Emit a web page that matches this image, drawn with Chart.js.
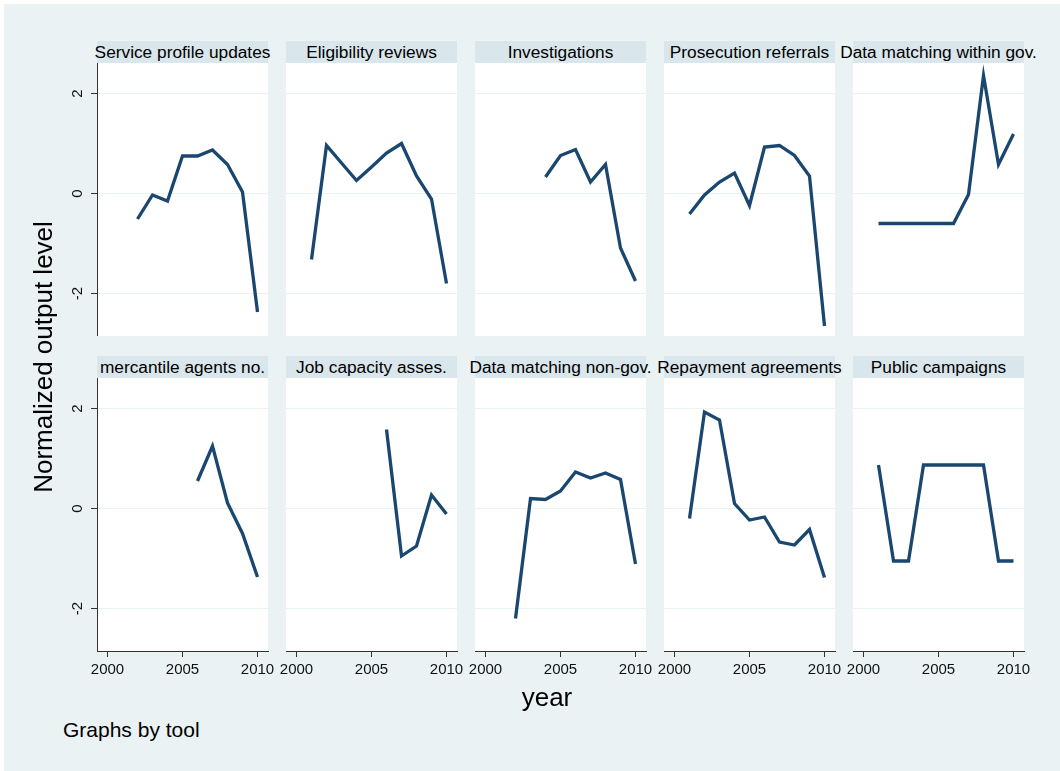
<!DOCTYPE html>
<html>
<head>
<meta charset="utf-8">
<script src="https://cdn.jsdelivr.net/npm/chart.js@4/dist/chart.umd.min.js"></script>
<style>
html, body { margin: 0; padding: 0; background: #ffffff; }
body { width: 1060px; height: 771px; position: relative; overflow: hidden; font-family: "Liberation Sans", Arial, sans-serif; color: #000; }
#bg { position: absolute; left: 4px; top: 4px; right: 0; bottom: 0; background: #eaf2f3; }
.strip { position: absolute; height: 22px; width: 171px; background: #d9e6eb; display: flex; justify-content: center; align-items: center; white-space: nowrap; font-size: 17.3px; color: #000; }
.strip span { line-height: 22px; }
canvas { position: absolute; }
#ytitle { position: absolute; width: 400px; height: 26px; line-height: 26px; font-size: 26px; text-align: center; white-space: nowrap; left: -157px; top: 344px; transform: rotate(-90deg); }
#xtitle { position: absolute; left: 447px; width: 200px; top: 684px; height: 26px; line-height: 26px; font-size: 26px; text-align: center; }
#note { position: absolute; left: 63px; top: 719px; height: 21px; line-height: 21px; font-size: 21px; white-space: nowrap; }
</style>
</head>
<body>
<div id="bg"></div>
<div id="panels"></div>
<div id="ytitle">Normalized output level</div>
<div id="xtitle">year</div>
<div id="note">Graphs by tool</div>
<script>
// ---- data ----
const years = [2000, 2001, 2002, 2003, 2004, 2005, 2006, 2007, 2008, 2009, 2010];
const xTicks = [2000, 2005, 2010];
const yTicks = [-2, 0, 2];
const panelTitles = [
  "Service profile updates", "Eligibility reviews", "Investigations", "Prosecution referrals", "Data matching within gov.",
  "mercantile agents no.", "Job capacity asses.", "Data matching non-gov.", "Repayment agreements", "Public campaigns"
];
const serviceProfileUpdates = [null, null, -0.51, -0.03, -0.15, 0.75, 0.75, 0.87, 0.58, 0.03, -2.37];
const eligibilityReviews   = [null, -1.32, 0.96, 0.61, 0.26, 0.53, 0.81, 1.00, 0.35, -0.11, -1.80];
const investigations       = [null, null, null, null, 0.33, 0.76, 0.88, 0.23, 0.58, -1.09, -1.75];
const prosecutionReferrals = [null, -0.41, -0.03, 0.23, 0.41, -0.24, 0.93, 0.96, 0.76, 0.35, -2.65];
const dataMatchingWithinGov = [null, -0.60, -0.60, -0.60, -0.60, -0.60, -0.60, -0.02, 2.36, 0.58, 1.19];
const mercantileAgentsNo   = [null, null, null, null, null, null, 0.55, 1.25, 0.11, -0.50, -1.37];
const jobCapacityAsses     = [null, null, null, null, null, null, 1.58, -0.95, -0.75, 0.27, -0.11];
const dataMatchingNonGov   = [null, null, -2.20, 0.20, 0.18, 0.35, 0.73, 0.61, 0.71, 0.58, -1.11];
const repaymentAgreements  = [null, -0.20, 1.93, 1.77, 0.10, -0.23, -0.17, -0.67, -0.73, -0.42, -1.38];
const publicCampaigns      = [null, 0.87, -1.05, -1.05, 0.87, 0.87, 0.87, 0.87, 0.87, -1.05, -1.05];

const panelSeries = [
  serviceProfileUpdates, eligibilityReviews, investigations, prosecutionReferrals, dataMatchingWithinGov,
  mercantileAgentsNo, jobCapacityAsses, dataMatchingNonGov, repaymentAgreements, publicCampaigns
];

// ---- layout / style ----
const FONT = "'Liberation Sans', Arial, sans-serif";
const PLOT_W = 171, PLOT_H = 273, COL_STEP = 189, FIRST_LEFT = 97;
const ROW_TOP = [63, 378];
const STRIP_TOP = [41, 356];

const whiteArea = {
  id: 'whiteArea',
  beforeDraw(chart) {
    const { ctx, chartArea: a } = chart;
    ctx.save();
    ctx.fillStyle = '#ffffff';
    ctx.fillRect(a.left, a.top, a.right - a.left, a.bottom - a.top);
    ctx.restore();
  }
};

function zeroPadding(s) {
  s.paddingTop = 0; s.paddingBottom = 0; s.paddingLeft = 0; s.paddingRight = 0;
}

const root = document.getElementById('panels');

panelSeries.forEach((vals, idx) => {
  const col = idx % 5, row = Math.floor(idx / 5);
  const plotLeft = FIRST_LEFT + COL_STEP * col;
  const plotTop = ROW_TOP[row];
  const L = col === 0 ? 45 : 8, R = 8, B = row === 1 ? 40 : 0;

  const strip = document.createElement('div');
  strip.className = 'strip';
  strip.style.left = plotLeft + 'px';
  strip.style.top = STRIP_TOP[row] + 'px';
  const sp = document.createElement('span');
  sp.textContent = panelTitles[idx];
  strip.appendChild(sp);
  root.appendChild(strip);

  const canvas = document.createElement('canvas');
  canvas.width = L + PLOT_W + R;
  canvas.height = PLOT_H + B;
  canvas.style.left = (plotLeft - L) + 'px';
  canvas.style.top = plotTop + 'px';
  canvas.style.width = canvas.width + 'px';
  canvas.style.height = canvas.height + 'px';
  root.appendChild(canvas);

  new Chart(canvas, {
    type: 'line',
    data: {
      datasets: [{
        data: years.map((y, i) => ({ x: y, y: vals[i] })),
        borderColor: '#1a476f',
        borderWidth: 3.3,
        pointRadius: 0,
        pointHoverRadius: 0,
        tension: 0,
        fill: false,
        spanGaps: false
      }]
    },
    options: {
      responsive: false,
      maintainAspectRatio: false,
      animation: false,
      devicePixelRatio: 1,
      events: [],
      layout: { padding: { left: 0, right: R, top: 0, bottom: 0 } },
      plugins: { legend: { display: false }, tooltip: { enabled: false }, title: { display: false } },
      scales: {
        x: {
          type: 'linear',
          min: 1999.3,
          max: 2010.7,
          display: row === 1,
          afterBuildTicks: s => { s.ticks = xTicks.map(v => ({ value: v })); },
          afterFit: s => { s.height = B; zeroPadding(s); },
          grid: { drawOnChartArea: false, drawTicks: true, tickLength: 6, tickColor: '#333333', tickWidth: 1 },
          border: { display: true, color: '#333333', width: 1 },
          ticks: {
            font: { family: FONT, size: 15 },
            color: '#111111',
            padding: 4,
            minRotation: 0,
            maxRotation: 0,
            autoSkip: false,
            callback: v => String(v)
          }
        },
        y: {
          type: 'linear',
          min: -2.85,
          max: 2.61,
          afterBuildTicks: s => { s.ticks = yTicks.map(v => ({ value: v })); },
          afterFit: s => { s.width = L; zeroPadding(s); },
          grid: { color: '#eaf2f3', lineWidth: 1, drawTicks: col === 0, tickLength: 6, tickColor: '#333333', tickWidth: 1 },
          border: { display: col === 0, color: '#333333', width: 1 },
          ticks: {
            display: col === 0,
            font: { family: FONT, size: 15 },
            color: '#111111',
            padding: 6,
            minRotation: 90,
            maxRotation: 90,
            crossAlign: 'center',
            callback: v => String(v)
          }
        }
      }
    },
    plugins: [whiteArea]
  });
});
</script>
</body>
</html>
